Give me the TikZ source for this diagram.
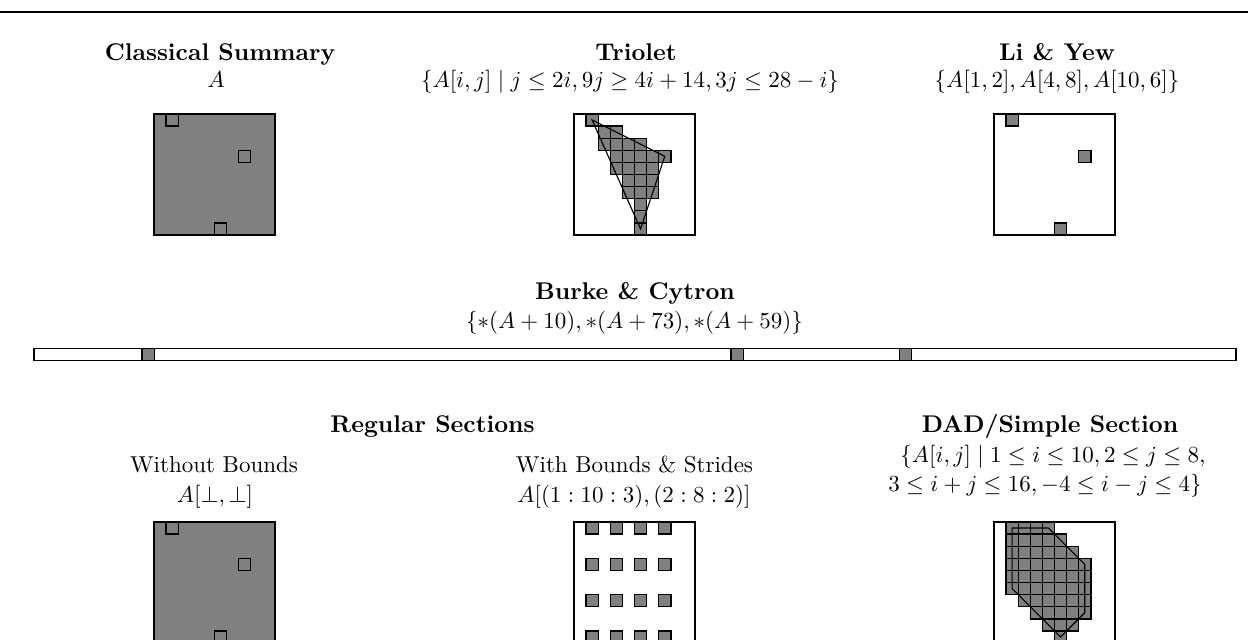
\documentclass[tikz,border=0pt]{standalone}
\usepackage{amsmath,amssymb}
\definecolor{cellgray}{RGB}{128,128,128}
\begin{document}
\begin{tikzpicture}[x=0.4348pt,y=-0.4348pt,
  lbl/.style={anchor=base,inner sep=0pt,font=\fontsize{10}{12}\selectfont},
  ttl/.style={anchor=base,inner sep=0pt,font=\fontsize{10.5}{12}\selectfont\bfseries},
  frame/.style={draw=black,line width=0.6pt},
  cell/.style={draw=black,fill=cellgray,line width=0.6pt},
  hole/.style={draw=black,line width=0.6pt},
  outline/.style={draw=black,line width=0.5pt,line join=miter}]
\useasboundingbox (0,0) rectangle (1248,639);
\clip (0,0) rectangle (1248,639);
\pgfmathsetmacro{\cw}{12.1}
% top rule
\draw[line width=0.8pt] (0,12) -- (1248,12);

% ---------- Classical Summary ----------
\node[ttl] (t1) at (220,60) {Classical Summary};
\node[lbl] (m1) at (216,87) {$A$};
\fill[cellgray] (154,114) rectangle +(121,121);
\draw[frame] (154,114) rectangle +(121,121);
\foreach \i/\j in {1/2,4/8,10/6}
  \draw[hole] ({154+(\j-1)*\cw},{114+(\i-1)*\cw}) rectangle +(\cw,\cw);

% ---------- Triolet ----------
\node[ttl] (t2) at (636,60) {Triolet};
\node[lbl] (m2) at (630,87) {$\{A[i,j]\mid j\le 2i, 9j\ge 4i+14, 3j\le 28-i\}$};
\draw[frame] (574,114) rectangle +(121,121);
\foreach \i in {1,...,10}{
  \foreach \j in {1,...,10}{
    \pgfmathtruncatemacro{\ok}{and(and(\j<=2*\i,9*\j>=4*\i+14),3*\j<=28-\i)}
    \ifnum\ok=1
      \draw[cell] ({574+(\j-1)*\cw},{114+(\i-1)*\cw}) rectangle +(\cw,\cw);
    \fi
  }
}
\draw[outline] ({574+1.5*\cw},{114+0.5*\cw}) -- ({574+7.5*\cw},{114+3.5*\cw})
  -- ({574+5.5*\cw},{114+9.5*\cw}) -- cycle;

% ---------- Li & Yew ----------
\node[ttl] (t3) at (1057,60) {Li \& Yew};
\node[lbl] (m3) at (1057,87) {$\{A[1,2],A[4,8],A[10,6]\}$};
\draw[frame] (994,114) rectangle +(121,121);
\foreach \i/\j in {1/2,4/8,10/6}
  \draw[cell] ({994+(\j-1)*\cw},{114+(\i-1)*\cw}) rectangle +(\cw,\cw);

% ---------- Burke & Cytron ----------
\node[ttl] (t4) at (635,299) {Burke \& Cytron};
\node[lbl] (m4) at (634.5,328) {$\{*(A+10),*(A+73),*(A+59)\}$};
\pgfmathsetmacro{\sw}{12.02}
\draw[frame] (34,348.5) rectangle +({100*\sw},12);
\foreach \k in {10,73,59}
  \draw[cell] ({34+(\k-1)*\sw},348.5) rectangle +(\sw,12);

% ---------- Regular Sections ----------
\node[ttl] (t5) at (432.5,432) {Regular Sections};
\node[lbl] (s5a) at (214,472) {Without Bounds};
\node[lbl] (m5a) at (215,502) {$A[\bot,\bot]$};
\fill[cellgray] (154,522) rectangle +(121,121);
\draw[frame] (154,522) rectangle +(121,121);
\foreach \i/\j in {1/2,4/8,10/6}
  \draw[hole] ({154+(\j-1)*\cw},{522+(\i-1)*\cw}) rectangle +(\cw,\cw);

\node[lbl] (s5b) at (634.5,472) {With Bounds \& Strides};
\node[lbl] (m5b) at (634,502) {$A[(1:10:3),(2:8:2)]$};
\draw[frame] (574,522) rectangle +(121,121);
\foreach \i in {1,4,7,10}
  \foreach \j in {2,4,6,8}
    \draw[cell] ({574+(\j-1)*\cw},{522+(\i-1)*\cw}) rectangle +(\cw,\cw);

% ---------- DAD/Simple Section ----------
\node[ttl] (t6) at (1050,432) {DAD/Simple Section};
\node[lbl] (m6a) at (1053,462) {$\{A[i,j]\mid 1\le i\le 10, 2\le j\le 8,$};
\node[lbl] (m6b) at (1045,491) {$3\le i+j\le 16, -4\le i-j\le 4\}$};
\draw[frame] (994,522) rectangle +(121,121);
\foreach \i in {1,...,10}{
  \foreach \j in {1,...,10}{
    \pgfmathtruncatemacro{\ok}{and(and(and(\j>=2,\j<=8),and(\i+\j>=3,\i+\j<=16)),and(\i-\j>=-4,\i-\j<=4))}
    \ifnum\ok=1
      \draw[cell] ({994+(\j-1)*\cw},{522+(\i-1)*\cw}) rectangle +(\cw,\cw);
    \fi
  }
}
\draw[outline] ({994+1.5*\cw},{522+0.5*\cw}) -- ({994+4.5*\cw},{522+0.5*\cw})
  -- ({994+7.5*\cw},{522+3.5*\cw}) -- ({994+7.5*\cw},{522+7.5*\cw})
  -- ({994+5.5*\cw},{522+9.5*\cw}) -- ({994+1.5*\cw},{522+5.5*\cw}) -- cycle;
\end{tikzpicture}
\end{document}
